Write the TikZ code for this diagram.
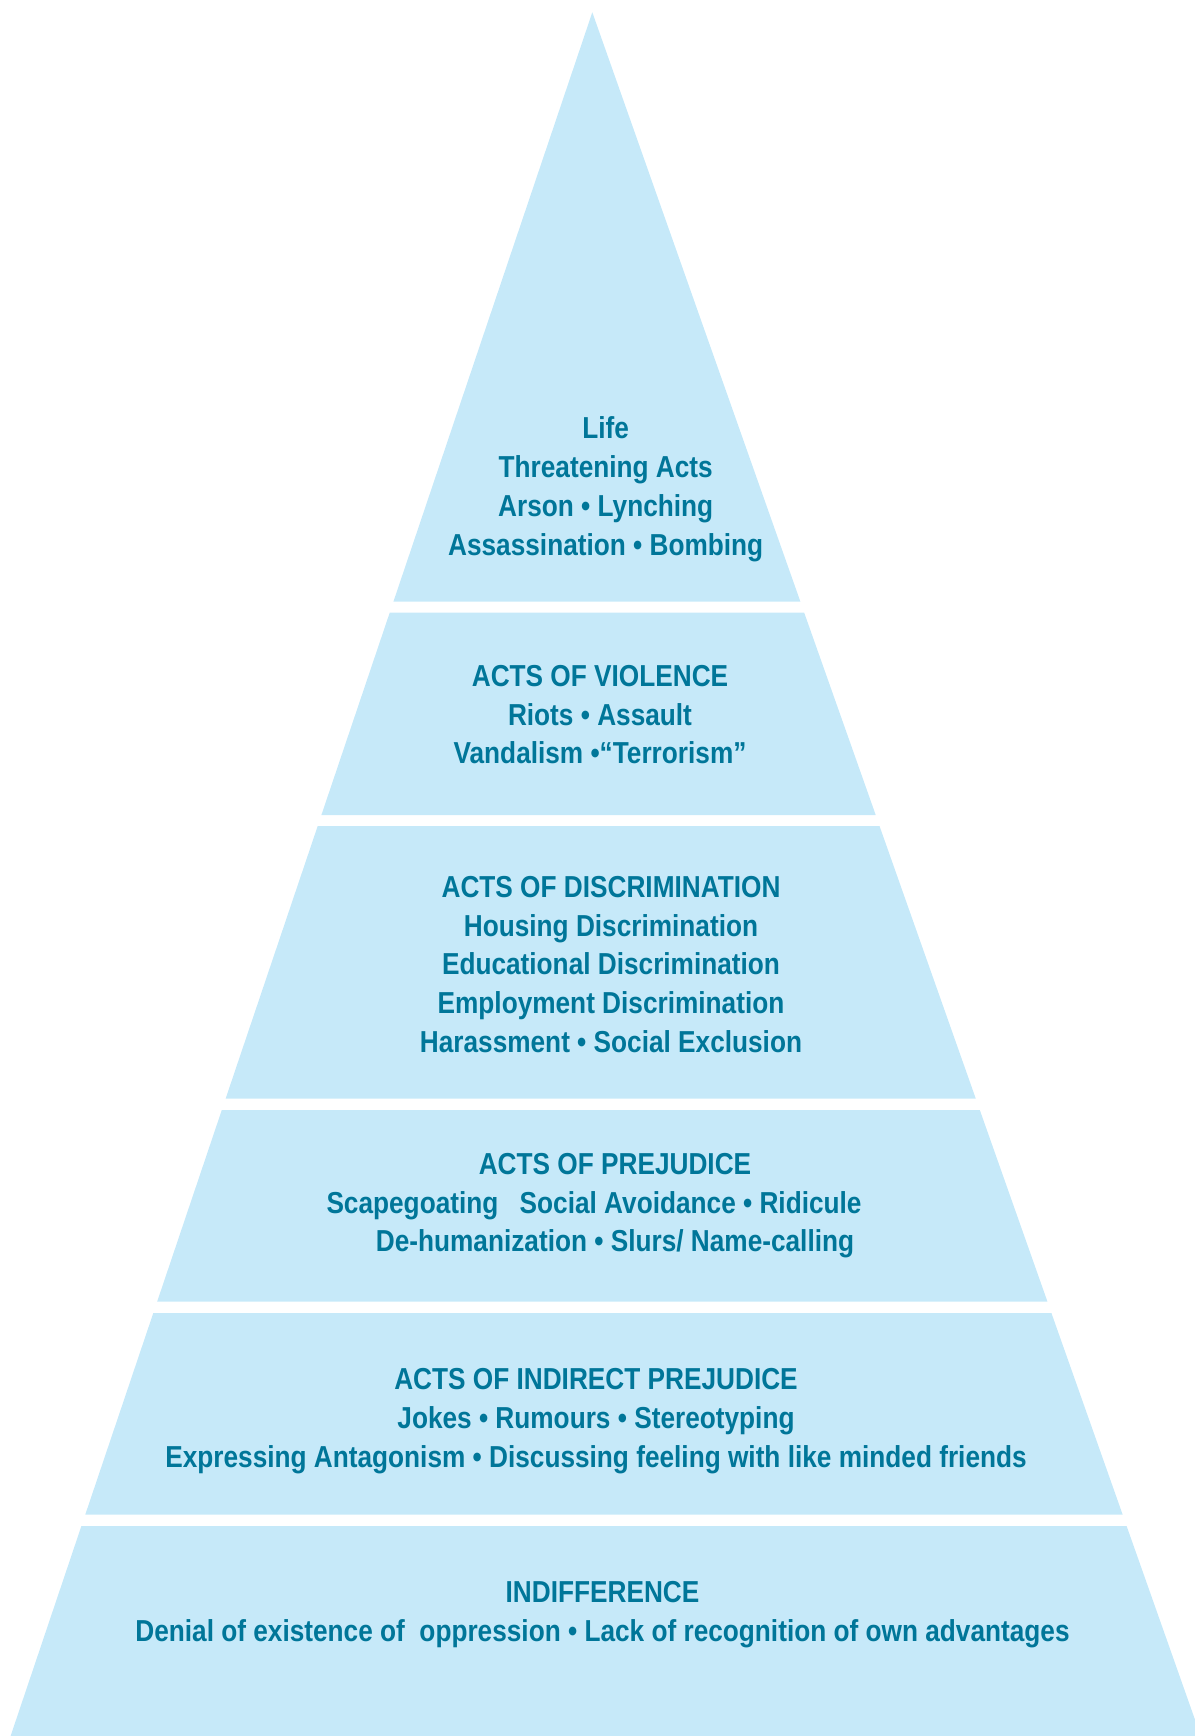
\documentclass[tikz,border=0pt]{standalone}
\usepackage{fontspec}
\newfontfamily\tierfont[FakeStretch=0.865]{Liberation Sans}
\definecolor{bandblue}{RGB}{198,233,249}
\definecolor{tierteal}{RGB}{0,118,153}

\begin{document}
\begin{tikzpicture}[x=0.02cm,y=-0.02cm,
   band/.style={fill=bandblue},
   tier/.style={anchor=north,inner sep=0pt,align=center,text=tierteal,
      font=\tierfont\bfseries\fontsize{17.25pt}{22.03pt}\selectfont}]
   \useasboundingbox (0,0) rectangle (1195,1736);
   % the six bands, top to bottom
   \fill[band] (592.3,12.3) -- (800.4,601.7) -- (393.4,601.7) -- cycle;
   \fill[band] (389.7,612.7) -- (804.2,612.7) -- (875.7,815) -- (321.4,815) -- cycle;
   \fill[band] (317.7,826) -- (879.5,826) -- (975.8,1098.7) -- (225.6,1098.7) -- cycle;
   \fill[band] (221.8,1110) -- (979.8,1110) -- (1047.4,1301.5) -- (157.2,1301.5) -- cycle;
   \fill[band] (153.3,1313) -- (1051.4,1313) -- (1122.6,1514.5) -- (85.3,1514.5) -- cycle;
   \fill[band] (81.4,1526) -- (1126.6,1526) -- (1195,1719.7) -- (1195,1736) -- (10.6,1736) -- cycle;
   % labels
   \node[tier] (life) at (605.7,416.6)
      {Life\\Threatening Acts\\Arson • Lynching\\Assassination • Bombing};
   \node[tier] (violence) at (600,665)
      {ACTS OF VIOLENCE\\Riots • Assault\\Vandalism •“Terrorism”};
   \node[tier] (discrim) at (611,876)
      {ACTS OF DISCRIMINATION\\Housing Discrimination\\Educational Discrimination\\
       Employment Discrimination\\Harassment • Social Exclusion};
   \node[tier] (prejudice) at (615,1153)
      {ACTS OF PREJUDICE\\Scapegoating\hspace{0.28cm} Social Avoidance • Ridicule\hspace*{0.84cm}\null\\
       De-humanization • Slurs/ Name-calling};
   \node[tier] (indirect) at (596,1368.3)
      {ACTS OF INDIRECT PREJUDICE\\Jokes • Rumours • Stereotyping\\
       Expressing Antagonism • Discussing feeling with like minded friends};
   \node[tier] (indiff) at (602.5,1581.3)
      {INDIFFERENCE\\Denial of existence of~ oppression • Lack of recognition of own advantages};
\end{tikzpicture}
\end{document}
